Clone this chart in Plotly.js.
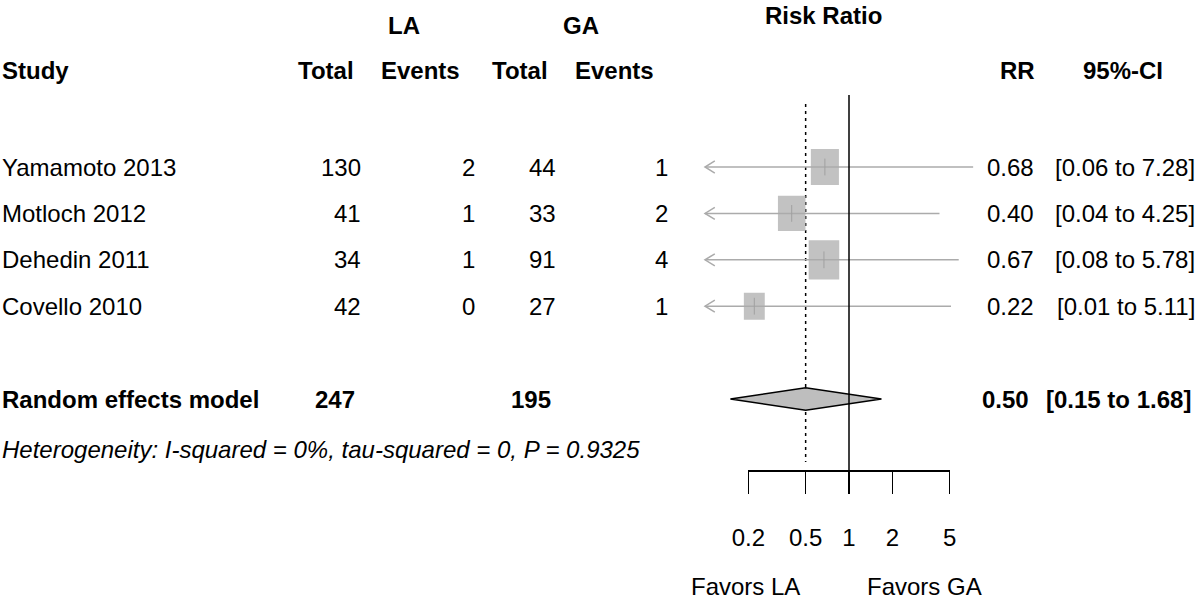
<!DOCTYPE html>
<html>
<head>
<meta charset="utf-8">
<script src="https://cdn.plot.ly/plotly-3.0.1.min.js"></script>
<style>body{margin:0;background:#fff;}</style>
</head>
<body>
<div id="forest" style="width:1200px;height:607px;"></div>
<script>
// study level data
var studies = ["Yamamoto 2013", "Motloch 2012", "Dehedin 2011", "Covello 2010"];
var laTotal = [130, 41, 34, 42];
var laEvents = [2, 1, 1, 0];
var gaTotal = [44, 33, 91, 27];
var gaEvents = [1, 2, 4, 1];
var rr = [0.68, 0.40, 0.67, 0.22];
var ciLow = [0.06, 0.04, 0.08, 0.01];
var ciHigh = [7.28, 4.25, 5.78, 5.11];
var weights = [27, 26, 32, 15];

// pooled estimate
var pooledLabel = "Random effects model";
var pooledLaTotal = 247;
var pooledGaTotal = 195;
var pooledRR = 0.50;
var pooledLow = 0.15;
var pooledHigh = 1.68;
var hetText = "Heterogeneity: I-squared = 0%, tau-squared = 0, P = 0.9325";

// axis of the forest panel
var axisTicks = [0.2, 0.5, 1, 2, 5];
var clipLow = 0.1;
var leftLabel = "Favors LA";
var rightLabel = "Favors GA";

// page geometry
var W = 1200, H = 607;
var FONT = "Liberation Sans, Arial, Helvetica, sans-serif";
var Y0 = 167, ROWH = 46.4;     // pixel of first row, row spacing
var ONE = 849, DEC = 144;      // pixel of RR = 1, pixels per decade
var pooledRow = studies.length + 1;

function rowAt(p) { return (p - Y0) / ROWH; }
function fmt(v) { return v.toFixed(2); }

var rows = studies.map(function (s, i) { return i; });

// CI lines, clipped at the lower limit, and weight boxes
var ciX = [], ciY = [], arX = [], arY = [], bxX = [], bxY = [];
rows.forEach(function (r, i) {
  ciX.push(Math.max(ciLow[i], clipLow), ciHigh[i], null);
  ciY.push(r, r, null);
  if (ciLow[i] < clipLow) {
    arX.push(clipLow * 1.17, clipLow, clipLow * 1.17, null);
    arY.push(r - 0.13, r, r + 0.13, null);
  }
  var s = Math.sqrt(weights[i]);
  var hw = Math.pow(10, 2.7 * s / DEC);   // half width as a ratio on the log axis
  var hh = 3.47 * s / ROWH;               // half height in rows
  var a = rr[i] / hw, b = rr[i] * hw;
  bxX.push(a, b, b, a, a, null);
  bxY.push(r - hh, r - hh, r + hh, r + hh, r - hh, null);
});

var dotted = {
  x: [pooledRR, pooledRR], y: [rowAt(104), rowAt(462)],
  mode: 'lines', line: {color: '#000', width: 1.5, dash: '3px,4px'},
  hoverinfo: 'skip'
};
var boxes = {
  x: bxX, y: bxY, mode: 'lines', fill: 'toself', fillcolor: '#c2c2c2',
  line: {width: 0, color: 'rgba(0,0,0,0)'}, hoverinfo: 'skip'
};
var ciLines = {
  x: ciX, y: ciY, mode: 'lines',
  line: {color: '#ababab', width: 1.5}, hoverinfo: 'skip'
};
var arrows = {
  x: arX, y: arY, mode: 'lines',
  line: {color: '#ababab', width: 1.5}, hoverinfo: 'skip'
};
var centres = {
  x: rr, y: rows, mode: 'markers',
  marker: {symbol: 'line-ns', size: 12, line: {color: '#a0a0a0', width: 1}},
  hoverinfo: 'skip'
};
var diamond = {
  x: [pooledLow, pooledRR, pooledHigh, pooledRR, pooledLow],
  y: [pooledRow, pooledRow - 0.24, pooledRow, pooledRow + 0.24, pooledRow],
  mode: 'lines', fill: 'toself', fillcolor: '#bebebe',
  line: {color: '#000', width: 1.5}, hoverinfo: 'skip'
};
var refLine = {
  x: [1, 1], y: [rowAt(95), rowAt(470)],
  mode: 'lines', line: {color: '#000', width: 1.5}, hoverinfo: 'skip'
};
var axisHolder = {x: [], y: [], xaxis: 'x2', yaxis: 'y2', mode: 'markers', hoverinfo: 'skip'};

var data = [dotted, boxes, ciLines, arrows, centres, diamond, refLine, axisHolder];

// text columns
var annotations = [];
function addText(text, xp, y, anchor, size) {
  annotations.push({
    text: text, xref: 'paper', yref: 'y', x: xp / W, y: y,
    xanchor: anchor, yanchor: 'middle', showarrow: false,
    font: {family: FONT, size: size || 24, color: '#000'}
  });
}

// headers
addText('<b>LA</b>', 404, rowAt(25), 'center');
addText('<b>GA</b>', 581, rowAt(25), 'center');
addText('<b>Risk Ratio</b>', 823, rowAt(15), 'center');
addText('<b>Study</b>', 0, rowAt(70), 'left');
addText('<b>Total</b>', 356, rowAt(70), 'right');
addText('<b>Events</b>', 462, rowAt(70), 'right');
addText('<b>Total</b>', 550, rowAt(70), 'right');
addText('<b>Events</b>', 656, rowAt(70), 'right');
addText('<b>RR</b>', 1037, rowAt(70), 'right');
addText('<b>95%-CI</b>', 1123, rowAt(70), 'center');

// study rows
rows.forEach(function (r, i) {
  addText(studies[i], 0, r, 'left');
  addText(String(laTotal[i]), 363, r, 'right');
  addText(String(laEvents[i]), 477, r, 'right');
  addText(String(gaTotal[i]), 558, r, 'right');
  addText(String(gaEvents[i]), 670, r, 'right');
  addText(fmt(rr[i]), 1036, r, 'right');
  addText('[' + fmt(ciLow[i]) + ' to ' + fmt(ciHigh[i]) + ']', 1197, r, 'right');
});

// pooled row
addText('<b>' + pooledLabel + '</b>', 0, pooledRow, 'left');
addText('<b>' + pooledLaTotal + '</b>', 357, pooledRow, 'right');
addText('<b>' + pooledGaTotal + '</b>', 553, pooledRow, 'right');
addText('<b>' + fmt(pooledRR) + '</b>', 1031, pooledRow, 'right');
addText('<b>[' + fmt(pooledLow) + ' to ' + fmt(pooledHigh) + ']</b>', 1193, pooledRow, 'right');
addText('<i>' + hetText + '</i>', 0, rowAt(449), 'left');

// favours labels
addText(leftLabel, 802, rowAt(586), 'right');
addText(rightLabel, 865, rowAt(586), 'left');

var lo = Math.log10(axisTicks[0]), hi = Math.log10(axisTicks[axisTicks.length - 1]);

var layout = {
  width: W, height: H,
  margin: {l: 0, r: 0, t: 0, b: 0},
  paper_bgcolor: '#fff', plot_bgcolor: 'rgba(0,0,0,0)',
  showlegend: false,
  font: {family: FONT, size: 24, color: '#000'},
  xaxis: {type: 'log', range: [-ONE / DEC, (W - ONE) / DEC], visible: false, fixedrange: true},
  yaxis: {range: [(H - Y0) / ROWH, -Y0 / ROWH], visible: false, fixedrange: true},
  xaxis2: {
    type: 'log', anchor: 'y2', range: [lo, hi],
    domain: [(ONE + DEC * lo) / W, (ONE + DEC * hi) / W],
    showline: true, linecolor: '#000', linewidth: 1.5,
    ticks: 'outside', ticklen: 22, tickwidth: 1.5, tickcolor: '#000',
    tickvals: axisTicks, ticktext: axisTicks.map(String),
    tickfont: {family: FONT, size: 24, color: '#000'},
    ticklabelstandoff: 24,
    showgrid: false, zeroline: false, fixedrange: true
  },
  yaxis2: {domain: [(H - 470) / H, (H - 462) / H], range: [0, 1], visible: false, fixedrange: true},
  annotations: annotations
};

Plotly.newPlot('forest', data, layout, {displayModeBar: false, staticPlot: true});
</script>
</body>
</html>
